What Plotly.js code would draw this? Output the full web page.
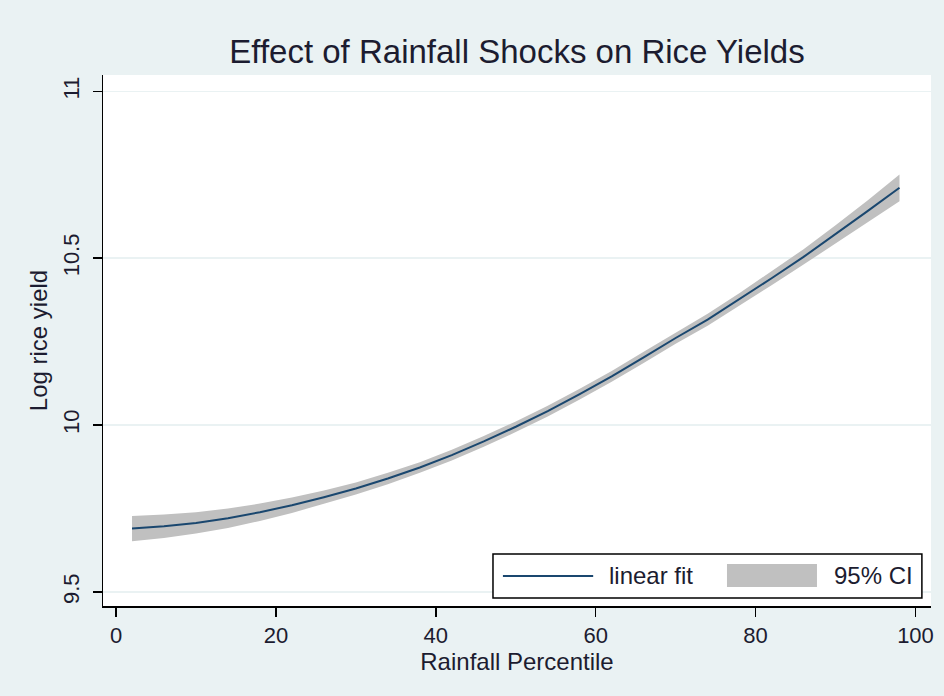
<!DOCTYPE html>
<html>
<head>
<meta charset="utf-8">
<script src="https://cdn.plot.ly/plotly-3.0.1.min.js"></script>
<style>
  html, body { margin: 0; padding: 0; background: #EAF2F3; }
  #chart { width: 944px; height: 696px; }
</style>
</head>
<body>
<div id="chart"></div>
<script>
// Rainfall percentile (x) and fitted log rice yield with 95% CI
const rainfallPct = [2, 6, 10, 14, 18, 22, 26, 30, 34, 38, 42, 46, 50, 54, 58, 62, 66, 70, 74, 78, 82, 86, 90, 94, 98];
const fitValues   = [9.690, 9.697, 9.707, 9.721, 9.739, 9.760, 9.784, 9.810, 9.840, 9.873, 9.910, 9.951, 9.995,
                     10.042, 10.093, 10.146, 10.203, 10.261, 10.316, 10.377, 10.440, 10.504, 10.572, 10.641, 10.711];
const ciUpper     = [9.728, 9.732, 9.739, 9.750, 9.765, 9.783, 9.804, 9.828, 9.857, 9.889, 9.926, 9.967, 10.011,
                     10.058, 10.109, 10.162, 10.220, 10.278, 10.334, 10.396, 10.461, 10.527, 10.599, 10.673, 10.751];
const ciLower     = [9.652, 9.662, 9.675, 9.692, 9.713, 9.737, 9.764, 9.792, 9.823, 9.857, 9.894, 9.935, 9.979,
                     10.026, 10.077, 10.130, 10.186, 10.244, 10.298, 10.358, 10.419, 10.481, 10.545, 10.609, 10.671];
const xTicks = [0, 20, 40, 60, 80, 100];
const yTicks = [9.5, 10, 10.5, 11];
const yTickLabels = ['9.5', '10', '10.5', '11'];
const legendLabels = ['linear fit', '95% CI'];

const lineColor = '#1a476f';
const ciColor = '#c0c0c0';
const textColor = '#1c1c30';
const fontFam = 'Liberation Sans, Arial, sans-serif';

const traces = [
  {
    x: rainfallPct, y: ciLower, type: 'scatter', mode: 'lines',
    line: {width: 0, color: ciColor}, showlegend: false, hoverinfo: 'skip'
  },
  {
    x: rainfallPct, y: ciUpper, type: 'scatter', mode: 'lines',
    fill: 'tonexty', fillcolor: ciColor,
    line: {width: 0, color: ciColor}, name: legendLabels[1], showlegend: false
  },
  {
    x: rainfallPct, y: fitValues, type: 'scatter', mode: 'lines',
    line: {width: 2, color: lineColor}, name: legendLabels[0], showlegend: false
  }
];

// legend drawn as a Stata-style box (paper coordinates of the plot area)
const shapes = [
  {type: 'rect', xref: 'paper', yref: 'paper', x0: 0.471, x1: 0.989, y0: 0.0151, y1: 0.0979,
   fillcolor: '#ffffff', line: {color: '#000', width: 1.5}, layer: 'above'},
  {type: 'line', xref: 'paper', yref: 'paper', x0: 0.483, x1: 0.592, y0: 0.0565, y1: 0.0565,
   line: {color: lineColor, width: 2}, layer: 'above'},
  {type: 'rect', xref: 'paper', yref: 'paper', x0: 0.7536, x1: 0.8623, y0: 0.0358, y1: 0.0791,
   fillcolor: ciColor, line: {width: 0}, layer: 'above'}
];
const annotations = [
  {xref: 'paper', yref: 'paper', x: 0.6087, y: 0.0565, xanchor: 'left', yanchor: 'middle',
   text: legendLabels[0], showarrow: false, font: {size: 24, family: fontFam, color: textColor}},
  {xref: 'paper', yref: 'paper', x: 0.8804, y: 0.0565, xanchor: 'left', yanchor: 'middle',
   text: legendLabels[1], showarrow: false, font: {size: 24, family: fontFam, color: textColor}}
];

const layout = {
  width: 944, height: 696,
  paper_bgcolor: '#EAF2F3',
  plot_bgcolor: '#ffffff',
  margin: {l: 103, r: 13, t: 75, b: 90},
  font: {family: fontFam, color: textColor, size: 22},
  title: {
    text: 'Effect of Rainfall Shocks on Rice Yields',
    font: {family: fontFam, size: 33, color: textColor},
    x: 0.5, xref: 'paper', xanchor: 'center',
    y: 1 - 51/696, yref: 'container', yanchor: 'middle'
  },
  xaxis: {
    range: [-1.63, 101.94],
    tickvals: xTicks, ticktext: xTicks.map(String),
    ticks: 'outside', ticklen: 9, tickwidth: 1.5, tickcolor: '#000',
    showline: true, linecolor: '#000', linewidth: 1.5,
    showgrid: false, zeroline: false,
    tickfont: {size: 22, family: fontFam, color: textColor},
    title: {text: 'Rainfall Percentile', font: {size: 24, family: fontFam, color: textColor}, standoff: 0}
  },
  yaxis: {
    range: [9.458, 11.049],
    tickvals: yTicks, ticktext: yTickLabels,
    tickangle: -90,
    ticks: 'outside', ticklen: 9, tickwidth: 1.5, tickcolor: '#000',
    ticklabelstandoff: 5,
    showline: true, linecolor: '#000', linewidth: 1.5,
    showgrid: true, gridcolor: '#EAF2F3', gridwidth: 1.5,
    zeroline: false,
    tickfont: {size: 22, family: fontFam, color: textColor},
    title: {text: 'Log rice yield', font: {size: 24, family: fontFam, color: textColor}, standoff: 4}
  },
  shapes: shapes,
  annotations: annotations,
  showlegend: false
};

Plotly.newPlot('chart', traces, layout, {displayModeBar: false, staticPlot: true});
</script>
</body>
</html>
